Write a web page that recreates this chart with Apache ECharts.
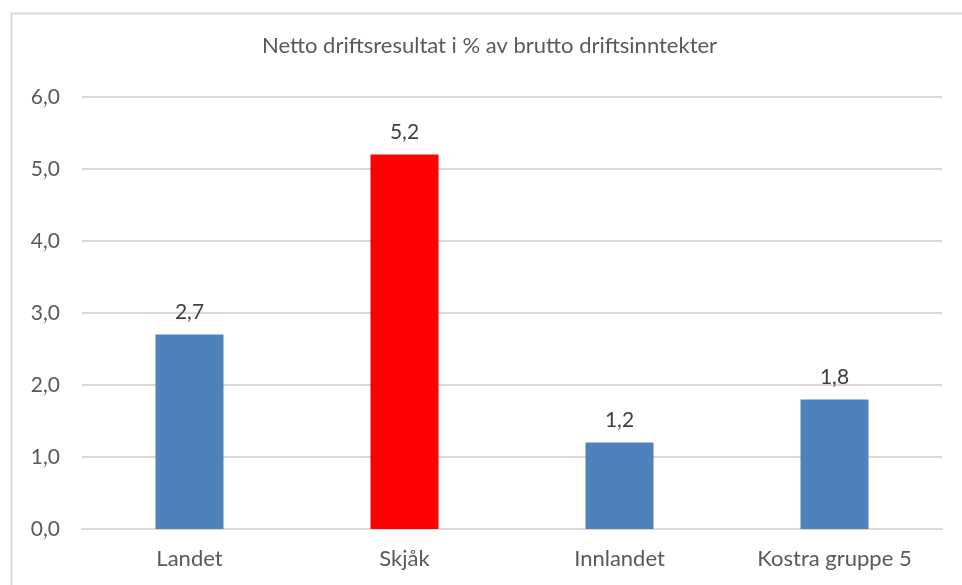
<!DOCTYPE html>
<html><head><meta charset="utf-8">
<script src="https://cdn.jsdelivr.net/npm/echarts@6/dist/echarts.min.js"></script>
<style>html,body{margin:0;padding:0;background:#fff}#c{width:962px;height:585px}</style>
</head><body><div id="c"></div>
<script>
const categories = ["Landet", "Skjåk", "Innlandet", "Kostra gruppe 5"];
const values = [2.7, 5.2, 1.2, 1.8];
const barColors = ["#4F81BD", "#FF0000", "#4F81BD", "#4F81BD"];
const titleText = "Netto driftsresultat i % av brutto driftsinntekter";
const fmt = v => Number(v).toFixed(1).replace('.', ',');

const chart = echarts.init(document.getElementById('c'), null, {renderer: 'canvas'});
chart.setOption({
  animation: false,
  textStyle: {fontFamily: 'Lato'},
  graphic: [{type: 'rect', shape: {x: 11.5, y: 13.5, width: 1000, height: 1000}, style: {fill: 'none', stroke: '#D9D9D9', lineWidth: 2}, silent: true, z: -1}],
  title: {text: titleText, left: 262, top: 35, padding: 0,
    textStyle: {fontFamily: 'Lato', fontSize: 22, fontWeight: 'normal', color: '#595959'}},
  grid: {left: 82, right: 20, top: 97, bottom: 56, containLabel: false},
  xAxis: {type: 'category', data: categories,
    axisLine: {lineStyle: {color: '#D9D9D9', width: 2}}, axisTick: {show: false},
    axisLabel: {color: '#595959', fontSize: 22, margin: 19, fontFamily: 'Lato'}},
  yAxis: {type: 'value', min: 0, max: 6, interval: 1,
    axisLine: {show: false}, axisTick: {show: false},
    splitLine: {lineStyle: {color: '#D9D9D9', width: 2}},
    axisLabel: {color: '#595959', fontSize: 21, margin: 22, fontFamily: 'Lato', formatter: fmt}},
  series: [{type: 'bar', barWidth: 68,
    data: values.map((v, i) => ({value: v, itemStyle: {color: barColors[i]}})),
    label: {show: true, position: 'top', distance: 12, color: '#404040', fontSize: 21, fontFamily: 'Lato',
      formatter: p => fmt(p.value)}}]
});
</script></body></html>
